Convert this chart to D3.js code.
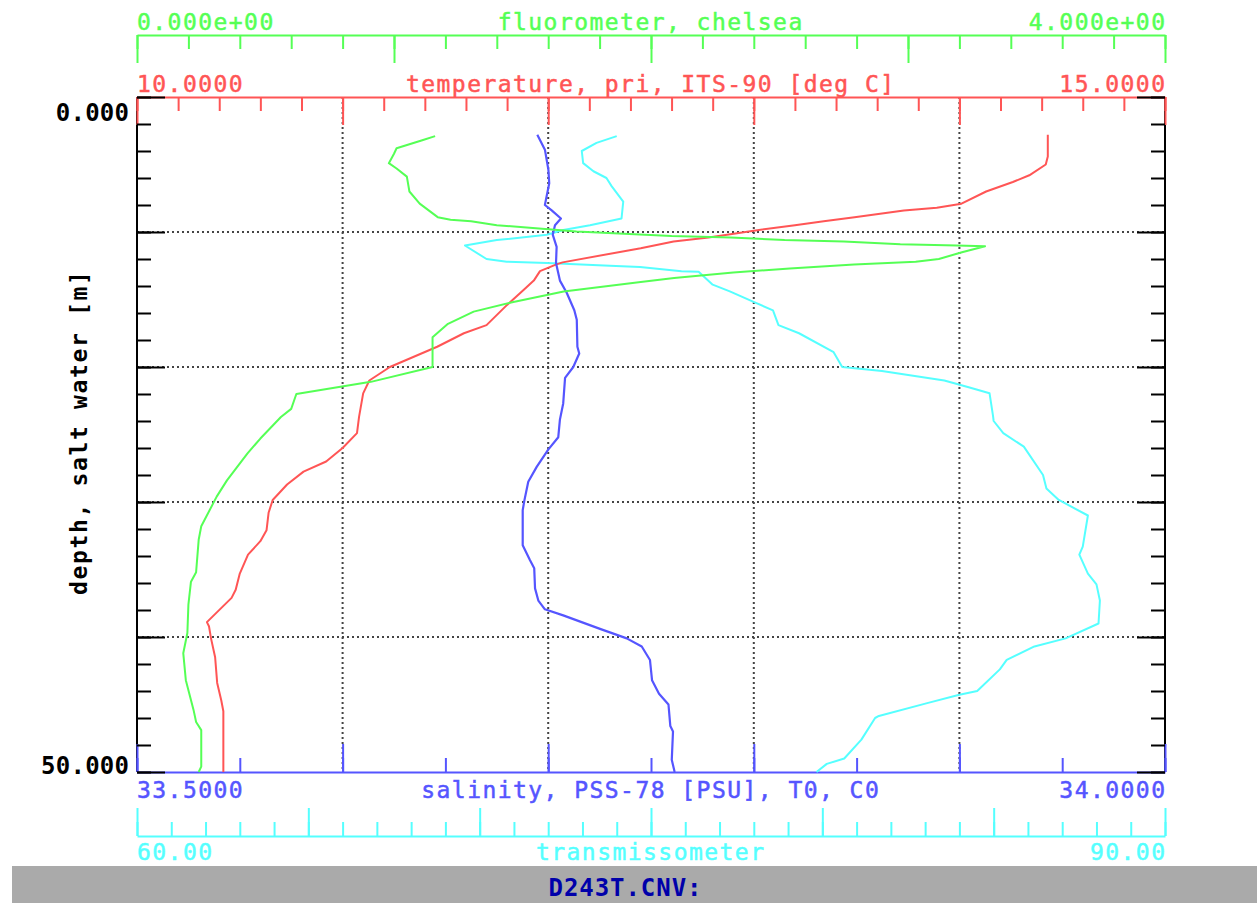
<!DOCTYPE html>
<html><head><meta charset="utf-8">
<script src="https://cdn.jsdelivr.net/npm/d3@7"></script>
<style>body{margin:0;background:#fff;overflow:hidden}svg{display:block}</style>
</head><body>
<svg id="chart" width="1257" height="903"></svg>
<script>
// ---- axis domains and labels ----
const depthDomain = [0, 50];
const tempDomain = [10, 15];
const fluorDomain = [0, 4];
const salDomain = [33.5, 34.0];
const transDomain = [60, 90];

const fluorLabels = ["0.000e+00", "fluorometer, chelsea", "4.000e+00"];
const tempLabels = ["10.0000", "temperature, pri, ITS-90 [deg C]", "15.0000"];
const salLabels = ["33.5000", "salinity, PSS-78 [PSU], T0, C0", "34.0000"];
const transLabels = ["60.00", "transmissometer", "90.00"];
const depthLabels = ["0.000", "50.000"];
const depthTitle = "depth, salt water [m]";
const fileTitle = "D243T.CNV:";

// ---- series ----
const tempDepth = [2.8,4.4,5.0,5.8,6.3,7.0,7.9,8.2,8.4,8.9,9.2,9.5,9.9,10.2,10.4,10.7,11.2,12.25,12.4,12.9,13.6,14.3,15.4,16.9,17.5,18.5,20.0,21.0,21.95,23.7,24.9,26.0,27.0,27.75,28.7,29.85,30.8,32.1,32.9,33.9,35.3,36.5,37.1,38.9,39.2,40.1,41.5,43.4,44.7,45.5,50.0];
const tempValue = [14.43,14.43,14.42,14.34,14.26,14.13,14.01,13.89,13.73,13.49,13.34,13.20,13.00,12.87,12.78,12.61,12.45,12.07,12.04,11.96,11.93,11.88,11.80,11.70,11.59,11.46,11.23,11.13,11.10,11.08,11.07,11.00,10.92,10.81,10.73,10.66,10.64,10.63,10.60,10.54,10.50,10.48,10.46,10.34,10.35,10.36,10.38,10.39,10.41,10.42,10.42];

const fluorDepth = [2.9,3.2,3.8,4.2,4.9,5.3,5.9,7.0,7.9,8.9,9.1,9.2,9.5,9.7,9.97,10.3,10.4,10.6,10.7,10.9,11.0,11.05,11.5,12.0,12.2,12.4,12.7,13.0,13.4,13.7,14.4,15.2,15.9,16.8,17.8,18.5,20.0,21.1,22.0,23.1,23.7,25.3,26.4,28.4,29.6,31.8,32.8,35.2,35.9,37.6,39.7,41.2,43.2,45.4,46.3,46.9,49.6,50.0];
const fluorValue = [1.16,1.11,1.01,1.00,0.98,1.01,1.05,1.06,1.10,1.17,1.22,1.30,1.40,1.54,1.71,2.08,2.31,2.52,2.75,2.97,3.19,3.30,3.21,3.12,3.03,2.79,2.54,2.32,2.09,1.96,1.66,1.46,1.31,1.21,1.15,1.15,1.15,0.91,0.62,0.60,0.56,0.48,0.43,0.35,0.31,0.25,0.24,0.23,0.21,0.20,0.196,0.18,0.19,0.22,0.23,0.25,0.25,0.24];

const salDepth = [2.8,3.9,5.4,6.4,7.6,8.0,8.4,9.0,9.5,10.2,11.1,12.3,13.6,14.5,15.8,16.5,18.5,19.0,20.0,20.8,22.7,23.9,25.2,26.1,27.4,28.5,29.9,30.6,33.2,34.3,34.9,36.4,37.3,37.95,38.4,39.4,40.1,40.7,41.7,42.0,43.2,44.2,45.0,46.6,47.0,49.1,50.0];
const salValue = [33.6947,33.6984,33.7001,33.7005,33.6989,33.6984,33.7017,33.7062,33.7033,33.7022,33.7041,33.7038,33.7057,33.7090,33.7127,33.7139,33.7142,33.7151,33.7122,33.7082,33.7073,33.7057,33.7049,33.7001,33.6944,33.6903,33.6884,33.6876,33.6876,33.6911,33.6932,33.6936,33.6952,33.6984,33.7073,33.7252,33.7382,33.7455,33.7495,33.7497,33.7505,33.7539,33.7585,33.7594,33.7607,33.7601,33.7615];

const transDepth = [2.9,3.4,4.0,4.9,5.5,6.0,6.6,7.75,9.0,9.5,9.85,10.2,10.6,11.0,12.0,12.2,12.3,12.5,12.6,12.9,12.95,13.9,14.4,15.2,15.8,16.9,17.5,18.9,20.0,20.3,21.0,21.5,21.95,23.6,24.0,24.9,25.9,28.0,29.0,29.85,31.0,33.3,33.9,35.3,36.1,37.3,39.0,40.1,40.7,41.7,42.4,44.0,44.3,44.9,45.85,46.0,47.6,49.0,49.4,50.0];
const transValue = [74.0,73.41,72.98,73.02,73.32,73.70,73.85,74.19,74.14,73.22,72.44,71.96,70.50,69.57,70.20,70.79,71.96,73.80,74.68,75.89,76.39,76.80,77.30,78.01,78.56,78.72,79.32,80.33,80.58,81.74,83.56,84.27,84.88,84.98,85.00,85.28,85.88,86.44,86.54,86.90,87.75,87.60,87.50,87.75,88.00,88.10,88.06,87.10,86.19,85.38,85.18,84.52,83.97,83.06,81.65,81.54,81.14,80.64,80.13,79.83];

// ---- tick values ----
const depthMinor = d3.range(0, 50.001, 2);
const depthMajor = [0, 10, 20, 30, 40, 50];
const tempMinor = d3.range(0, 26).map(i => 10 + i * 0.2);
const tempMajor = [10, 11, 12, 13, 14, 15];
const fluorMinor = d3.range(0, 21).map(i => i * 0.2);
const fluorMajor = [0, 1, 2, 3, 4];
const salMinor = d3.range(0, 11).map(i => 33.5 + i * 0.05);
const salMajor = d3.range(0, 6).map(i => 33.5 + i * 0.1);
const transMinor = d3.range(60, 90.001, 1);
const transMajor = [60, 65, 70, 75, 80, 85, 90];

// ---- colours ----
const C = {green:"#55ff55", red:"#ff5555", blue:"#5555ff", cyan:"#55ffff", black:"#000", grid:"#444", bar:"#aaaaaa", title:"#0000aa"};

const L = 137, R = 1165, T = 97, B = 772;
const svg = d3.select("#chart");
const y = d3.scaleLinear().domain(depthDomain).range([T, B]);
const xT = d3.scaleLinear().domain(tempDomain).range([L, R]);
const xF = d3.scaleLinear().domain(fluorDomain).range([L, R]);
const xS = d3.scaleLinear().domain(salDomain).range([L, R]);
const xR = d3.scaleLinear().domain(transDomain).range([L, R]);

// background bar
svg.append("rect").attr("x", 12).attr("y", 866).attr("width", 1245).attr("height", 37).attr("fill", C.bar);

// grid
const grid = svg.append("g").attr("stroke", C.grid).attr("stroke-width", 2).attr("stroke-dasharray", "2,3");
grid.selectAll("line.v").data(tempMajor.slice(1, -1)).join("line")
  .attr("x1", d => xT(d)).attr("x2", d => xT(d)).attr("y1", T).attr("y2", B);
grid.selectAll("line.h").data(depthMajor.slice(1, -1)).join("line")
  .attr("y1", d => y(d)).attr("y2", d => y(d)).attr("x1", L).attr("x2", R);

// black vertical frame lines
svg.append("line").attr("x1", L).attr("x2", L).attr("y1", T).attr("y2", B).attr("stroke", C.black).attr("stroke-width", 2);
svg.append("line").attr("x1", R).attr("x2", R).attr("y1", T).attr("y2", B).attr("stroke", C.black).attr("stroke-width", 2);

function styleAxis(g, color) {
  g.selectAll("path.domain").attr("stroke", color).attr("stroke-width", 2);
  g.selectAll(".tick line").attr("stroke", color).attr("stroke-width", 2);
  g.selectAll(".tick text").remove();
}
function hAxis(gen, scale, minor, major, ypos, color) {
  const g1 = svg.append("g").attr("transform", `translate(0,${ypos})`)
    .call(gen(scale).tickValues(minor).tickSize(14).tickSizeOuter(0).tickFormat(""));
  styleAxis(g1, color);
  const g2 = svg.append("g").attr("transform", `translate(0,${ypos})`)
    .call(gen(scale).tickValues(major).tickSize(28).tickSizeOuter(0).tickFormat(""));
  styleAxis(g2, color);
  g2.select("path.domain").remove();
}
hAxis(d3.axisBottom, xF, fluorMinor, fluorMajor, 35, C.green);
hAxis(d3.axisBottom, xT, tempMinor, tempMajor, T, C.red);
hAxis(d3.axisTop, xS, salMinor, salMajor, B, C.blue);
hAxis(d3.axisTop, xR, transMinor, transMajor, 836, C.cyan);

function vAxis(gen, xpos) {
  [[depthMinor, 14], [depthMajor, 28]].forEach(([vals, size]) => {
    const g = svg.append("g").attr("transform", `translate(${xpos},0)`)
      .call(gen(y).tickValues(vals).tickSize(size).tickSizeOuter(0).tickFormat(""));
    g.select("path.domain").remove();
    styleAxis(g, C.black);
  });
}
vAxis(d3.axisRight, L);
vAxis(d3.axisLeft, R);

// curves
function curve(depths, values, xs, color, w) {
  const pts = depths.map((d, i) => [d, values[i]]);
  svg.append("path").datum(pts)
    .attr("fill", "none").attr("stroke", color).attr("stroke-width", w).attr("stroke-linejoin", "round")
    .attr("d", d3.line().x(p => xs(p[1])).y(p => y(p[0])));
}
curve(transDepth, transValue, xR, C.cyan, 2);
curve(tempDepth, tempValue, xT, C.red, 2);
curve(salDepth, salValue, xS, C.blue, 2.2);
curve(fluorDepth, fluorValue, xF, C.green, 2);

// text
const FONT = "'DejaVu Sans Mono', 'Liberation Mono', monospace";
function txt(str, x, yy, anchor, color, size, cw, weight) {
  const t = svg.append("text").text(str).attr("x", x).attr("y", yy)
    .attr("text-anchor", anchor).attr("fill", color)
    .attr("font-family", FONT).attr("font-size", size).attr("font-weight", weight || "normal")
    .attr("textLength", str.length * cw - (cw - size * 0.602)).attr("lengthAdjust", "spacing");
  if (!weight) t.attr("stroke", color).attr("stroke-width", 0.5);
}
function axisLabels(labels, baseline, color) {
  txt(labels[0], L, baseline, "start", color, 23, 15.3);
  txt(labels[1], 650, baseline, "middle", color, 23, 15.3);
  txt(labels[2], R, baseline, "end", color, 23, 15.3);
}
axisLabels(fluorLabels, 30, C.green);
axisLabels(tempLabels, 92, C.red);
axisLabels(salLabels, 798, C.blue);
axisLabels(transLabels, 860, C.cyan);

txt(depthLabels[0], 129, 121, "end", C.black, 24, 14.7, "bold");
txt(depthLabels[1], 129, 774, "end", C.black, 24, 14.7, "bold");

svg.append("text").text(depthTitle)
  .attr("transform", "translate(87,433) rotate(-90)")
  .attr("text-anchor", "middle").attr("fill", C.black)
  .attr("font-family", FONT).attr("font-size", 23).attr("font-weight", "bold")
  .attr("textLength", depthTitle.length * 15.5 - (15.5 - 23 * 0.602)).attr("lengthAdjust", "spacing");

txt(fileTitle, 625, 896, "middle", C.title, 24, 15.4, "bold");
</script>
</body></html>
